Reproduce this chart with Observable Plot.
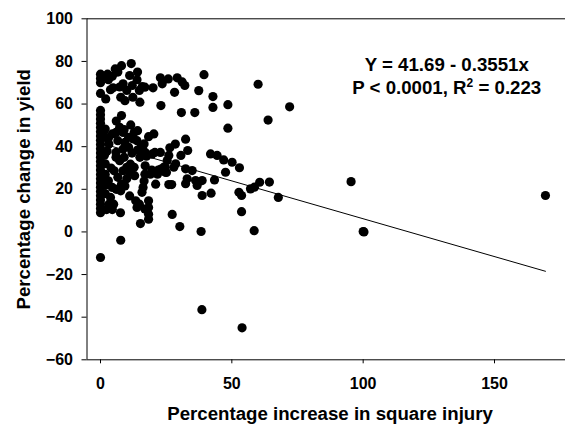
<!DOCTYPE html>
<html>
<head>
<meta charset="utf-8">
<script src="https://cdn.jsdelivr.net/npm/d3@7"></script>
<script src="https://cdn.jsdelivr.net/npm/@observablehq/plot@0.6"></script>
<style>
  html, body { margin: 0; padding: 0; background: white; }
</style>
</head>
<body>
<div id="chart"></div>
<script>
// Scatter points: percentage increase in square injury (x) vs percentage change in yield (y)
const injury = [
  // upper cluster
  0,0,0,0,1,2,2.7,3,4.5,5.6,6.6,8,4.8,3.8,7.3,8.6,9.3,7.7,11.7,11.1,14.1,13.9,12.1,12.3,10,14.8,15.9,15,16.9,20,
  22.8,23.5,25.8,29.2,31.1,32.1,28.2,23,30.8,35.9,37.4,39.4,42.8,42.8,48.5,48.5,60,63.8,72,
  // middle band
  0,0,0,0,0,0,0,0,0,0,1.8,2,3.2,4.5,5.9,8,7.3,8.6,6.6,9.3,10.7,11.5,12.8,14.1,12.5,13.9,10.7,8.6,5.9,14.1,
  16.6,18.3,20.3,17,19.6,22.8,26.4,28.5,32.4,33.2,30.6,26,25.4,28.6,27.9,24.1,22.8,24.7,32.4,34.9,
  33,36.2,38.7,36.8,32.4,26,27.1,21,41.9,44.4,46.9,50.1,52.9,47.6,43.4,42.1,38.7,52.7,53.7,57.1,
  58.6,60.6,64.3,53.7,27.3,30.2,38.3,58.5,38.6,53.9,67.7,95.4,100,100.3,169.4,
  // lower cluster
  0,0,0,0,0,0,0,0,0,0,0,0,0,0,0,0,
  1.5,1.8,1.8,1.8,1.8,2.3,3.2,3.8,4.5,4.5,5.9,5.2,7.3,6.6,8.6,8,7.7,7.6,7.7,9.3,10,11.4,11.1,12.8,13,
  13.4,13.9,14.8,15.2,16.2,16.6,16.9,15.8,18.3,18.3,18.3,18.3,16.9,19,23,3,4,2.5,6,5,10,9,11,3,6,9,12,
  15,17,19.5,21.7,25.1,24.6,15.5,17.5,20.7,22
];
const yieldChange = [
  // upper cluster
  74,72,70,65,73,62.4,74,71.4,73,76.5,75,78,67.6,66.7,68,69.5,61.6,63.2,79,73.4,75,71.4,68.7,63.2,66.4,66.4,68.2,60.9,67.9,67.6,
  72.3,69.5,71.8,72.3,70.4,68.7,65.5,59.3,56,56,66.3,73.8,63.5,58.4,59.7,48.7,69.3,52.5,58.7,
  // middle band
  57,55,53,51,49,47,45,43,41,39,48.3,44.4,41.3,46,46.7,54.6,49.1,46.7,42.8,42,44.4,50.2,46.7,47.5,43.6,42.8,39.7,38.9,37.3,38.4,
  41.3,44.7,46,37.3,36.5,37.3,39.5,41.2,43.5,38.2,35.9,35.9,33.5,32,30.4,30.4,28.8,28,29.6,28.8,
  24.9,24.1,24.1,21.8,22.6,22.2,22.2,22.4,36.6,35.9,33.8,32.7,30.1,28,24.4,18.2,17.1,18.6,17.1,20.2,
  21,23.3,23.4,9.5,8.2,2.5,0.2,0.6,-36.5,-45,16.2,23.6,0.2,0,17.1,
  // lower cluster
  37,35,33,31,29,27,25,23,21,19,17,15,13,11,9,-12,
  36,32,27,22,18,10.5,13,16.2,20.9,10.5,35,28.7,33.4,25.6,28.7,22.4,19.3,9,-3.9,21.6,30.3,31.8,16.9,30.3,26.4,
  14.6,11.5,13,3.9,20.9,23.9,27.1,18.6,14.6,11.5,8.3,6,10.7,27.1,29.5,24,30,38,20,13,25,35,28,44,52,48,37,
  35,31,29,27.1,27.9,30.3,40,35.5,37.3,29
];

// Fitted regression line endpoints
const fitX = [0, 169.4];
const fitY = [41.69, -18.46];

const xTicks = [0, 50, 100, 150];
const yTicks = [-60, -40, -20, 0, 20, 40, 60, 80, 100];

const equationLine1 = "Y = 41.69 - 0.3551x";
const equationLine2Parts = ["P < 0.0001, R", "2", " = 0.223"];
const equationLine2 = equationLine2Parts.join("");
const xTitle = "Percentage increase in square injury";
const yTitle = "Percentage change in yield";

const points = injury.map((x, i) => ({x, y: yieldChange[i]}));
const fit = fitX.map((x, i) => ({x, y: fitY[i]}));

const font = "'Liberation Sans', Arial, Helvetica, sans-serif";

const chart = Plot.plot({
  width: 565,
  height: 425,
  marginLeft: 86.5,
  marginRight: 0,
  marginTop: 18.3,
  marginBottom: 65.7,
  style: {fontFamily: font, fontSize: "16px", fontWeight: "bold", color: "black", background: "white", overflow: "visible"},
  x: {domain: [-5.14, 177.03], ticks: xTicks, tickSize: 4, tickPadding: 13.4, label: null, line: false},
  y: {domain: [-60, 100], ticks: yTicks, tickSize: 5, tickPadding: 9, label: null, line: false},
  marks: [
    Plot.ruleY([100], {stroke: "black", strokeWidth: 1}),
    Plot.ruleY([-60], {stroke: "black", strokeWidth: 1}),
    Plot.ruleX([-5.14], {stroke: "black", strokeWidth: 1}),
    Plot.dot(points, {x: "x", y: "y", r: 4.6, fill: "black", stroke: "none"}),
    Plot.line(fit, {x: "x", y: "y", stroke: "black", strokeWidth: 1}),
    Plot.text([equationLine1], {frameAnchor: "top", dx: 120.5, dy: 51.7, lineAnchor: "bottom", textAnchor: "middle", fontSize: 18.67, fontWeight: "bold", fill: "black"}),
    Plot.text([equationLine2], {frameAnchor: "top", dx: 120.5, dy: 75, lineAnchor: "bottom", textAnchor: "middle", fontSize: 18.67, fontWeight: "bold", fill: "black"}),
    Plot.text([xTitle], {frameAnchor: "bottom", dx: 3.8, dy: 60.1, lineAnchor: "bottom", textAnchor: "middle", fontSize: 18.67, fontWeight: "bold", fill: "black"}),
    Plot.text([yTitle], {frameAnchor: "left", dx: -56.9, rotate: -90, lineAnchor: "bottom", textAnchor: "middle", fontSize: 18.67, fontWeight: "bold", fill: "black"})
  ]
});

// Render the R² with a raised superscript "2" like the original
d3.select(chart).selectAll("text")
  .filter(function () { return this.textContent === equationLine2; })
  .each(function () {
    const t = d3.select(this);
    t.text(null);
    t.append("tspan").text(equationLine2Parts[0]);
    t.append("tspan").attr("font-size", 12).attr("dy", -7).text(equationLine2Parts[1]);
    t.append("tspan").attr("dy", 7).text(equationLine2Parts[2]);
  });

document.getElementById("chart").appendChild(chart);
</script>
</body>
</html>
